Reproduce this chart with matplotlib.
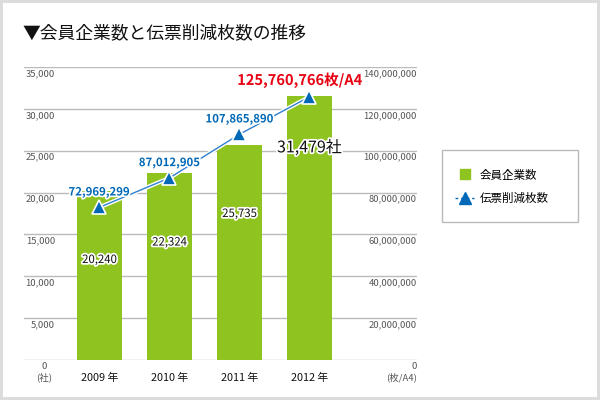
import matplotlib

matplotlib.use("Agg")
import matplotlib.pyplot as plt
import matplotlib.patheffects as pe
import matplotlib.transforms as mtransforms
from matplotlib.lines import Line2D
from matplotlib.patches import Rectangle
import numpy as np

plt.rcParams["font.family"] = ["Noto Sans CJK JP", "DejaVu Sans"]

years = ["2009 年", "2010 年", "2011 年", "2012 年"]
members = [20240, 22324, 25735, 31479]
slips = [72969299, 87012905, 107865890, 125760766]
left_ticks = [0, 5000, 10000, 15000, 20000, 25000, 30000, 35000]
right_ticks = [0, 20000000, 40000000, 60000000, 80000000, 100000000, 120000000, 140000000]

GREEN = "#8fc31f"
BLUE = "#0068b7"
LINE_BLUE = "#2f80d0"
RED = "#e60012"
GREY = "#555555"

fig = plt.figure(figsize=(6, 4), dpi=100)
fig.patches.append(Rectangle((0, 0), 1, 1, transform=fig.transFigure, fill=False,
                             edgecolor="#dcdcdc", linewidth=4.3))

fig.text(22 / 600, 1 - 33 / 400, "▼会員企業数と伝票削減枚数の推移", fontsize=12.8,
         va="center", ha="left", color="#111111")

ax = fig.add_axes([24 / 600, 40 / 400, 393 / 600, 293 / 400])
ax2 = ax.twinx()
x = np.arange(len(years))

ax.bar(x, members, width=0.643, color=GREEN, zorder=2)
ax.set_xlim(-1.0786, 4.536)
ax.set_ylim(0, 35000)
ax2.set_ylim(0, 140000000)

for v in left_ticks:
    ax.axhline(v, color="#bbbbbb", linewidth=1, zorder=1)

for a in (ax, ax2):
    for s in a.spines.values():
        s.set_visible(False)
    a.tick_params(left=False, right=False, bottom=False, labelleft=False, labelright=False)

ax.set_xticks(x, years)
ax.tick_params(axis="x", pad=6, labelsize=7.8, labelcolor="#111111")

down = mtransforms.offset_copy(ax.transData, fig=fig, x=0, y=-2, units="dots")
down2 = mtransforms.offset_copy(ax2.transData, fig=fig, x=0, y=-2, units="dots")
for v in left_ticks[1:]:
    ax.text(-1.0786 + 31 / 70, v, f"{v:,}", transform=down, ha="right", va="top",
            fontsize=6.8, color=GREY)
for v in right_ticks[1:]:
    ax2.text(4.536, v, f"{v:,}", transform=down2, ha="right", va="top",
             fontsize=6.8, color=GREY)
ax.text(-1.0786 + 20 / 70, 0, "0\n(社)", transform=down, ha="center", va="top",
        fontsize=6.8, color=GREY, linespacing=1.2)
ax2.text(4.536, 0, "0\n(枚/A4)", transform=down2, ha="right", va="top",
         fontsize=6.8, color=GREY, linespacing=1.2)

white = [pe.withStroke(linewidth=2.5, foreground="white")]
ax2.plot(x, slips, color=LINE_BLUE, linewidth=1, zorder=3,
         path_effects=[pe.withStroke(linewidth=3, foreground="white")])
ax2.plot(x, slips, linestyle="none", marker="^", markersize=10, color=BLUE,
         markeredgecolor="white", markeredgewidth=1.2, zorder=4)

for i, v in enumerate(slips[:-1]):
    ax2.annotate(f"{v:,}", (x[i], v), xytext=(0, 11), textcoords="offset points",
                 ha="center", va="center", fontsize=8.2, fontweight="bold", color=BLUE,
                 path_effects=white, zorder=5)
ax2.annotate(f"{slips[-1]:,}枚/A4", (x[-1], slips[-1]), xytext=(-7, 12), textcoords="offset points",
             ha="center", va="center", fontsize=10.5, fontweight="bold", color=RED,
             path_effects=white, zorder=5)

for i, v in enumerate(members[:-1]):
    ax.annotate(f"{v:,}", (x[i], v), xytext=(0, -50), textcoords="offset points",
                ha="center", va="center", fontsize=8.2, color="#111111",
                path_effects=white, zorder=5)
ax.annotate(f"{members[-1]:,}社", (x[-1], members[-1]), xytext=(0, -37), textcoords="offset points",
            ha="center", va="center", fontsize=11.5, color="#111111",
            path_effects=white, zorder=5)

fig.patches.append(Rectangle((442 / 600, 1 - 222 / 400), 136 / 600, 72 / 400,
                             transform=fig.transFigure, fill=False, edgecolor="#bbbbbb", linewidth=1))
handles = [
    Line2D([], [], color=GREEN, linestyle="none", marker="s", markersize=6.5, label="会員企業数"),
    Line2D([], [], color=BLUE, linestyle=(0, (2, 2)), linewidth=1, marker="^",
           markersize=8, label="伝票削減枚数"),
]
fig.legend(handles=handles, loc="center left", bbox_to_anchor=(445 / 600, 1 - 187 / 400),
           frameon=False, fontsize=8.3, handlelength=1.6, handleheight=0.9,
           labelspacing=0.9, handletextpad=0.5)

fig.savefig("out.png", dpi=100)
